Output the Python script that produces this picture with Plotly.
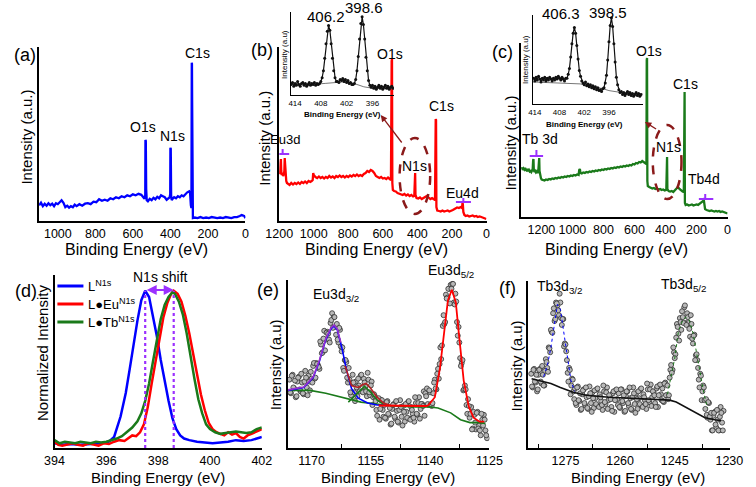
import plotly.graph_objects as go

W, H = 756, 487
FONT = "Liberation Sans, Arial, sans-serif"
PURPLE = "#9B30FF"
DARKRED = "#8B1A1A"
GREEN = "#1A7A1A"
BLUE = "#0000FF"
RED = "#FF0000"


def fx(px):
    return px / W


def fy(py):
    return 1 - py / H


# ---------------- data ----------------
# (a) survey of the ligand: (binding energy eV, intensity a.u.)
survey_a = [(1100, 14), (1090, 16.5), (1080, 13), (1070, 15.5), (1060, 13.5), (1050, 16), (1040, 14), (1030, 15.5),
            (1020, 13), (1010, 16), (1000, 15), (990, 17), (980, 19), (970, 16.5), (960, 12), (950, 13.5), (940, 11.5),
            (930, 13), (920, 12), (910, 14.5), (900, 13), (885, 15), (870, 13.5), (855, 15.5), (840, 16), (825, 15),
            (810, 17.5), (795, 17), (780, 20), (765, 18.5), (750, 19.5), (735, 18.5), (720, 21), (705, 20), (690, 22),
            (675, 21), (660, 23), (645, 22), (630, 24), (615, 23), (600, 25), (585, 24), (570, 25.5), (555, 24.5),
            (545, 22), (538, 20.5), (534, 24), (533, 80), (531, 79), (529, 30), (526, 19), (520, 18), (510, 20.5),
            (500, 19), (490, 21.5), (480, 20), (470, 22.5), (460, 21), (450, 24), (440, 23), (430, 22), (420, 19.5),
            (410, 21), (404, 22), (401, 25), (400, 72), (398, 71), (396, 24), (393, 19), (388, 20.5), (380, 22),
            (370, 21), (360, 23), (350, 22), (340, 24), (330, 23), (320, 25.5), (310, 27), (300, 28), (295, 26),
            (291, 14), (288, 11), (286, 158), (285, 157), (284, 118), (283, 60), (282, 3), (280, 1), (270, 1.5),
            (255, 1), (240, 2), (225, 1), (210, 1.5), (195, 1), (180, 2), (165, 1.5), (150, 1), (135, 1.5), (120, 1),
            (105, 2), (90, 1.5), (75, 1), (60, 2), (45, 2), (30, 3), (20, 4), (12, 3.5), (6, 3), (2, 1.5), (0, 1)]

# (b) survey of L-Eu
survey_b = [(1200, 47), (1197, 49), (1194, 50), (1192, 58), (1190, 62), (1188, 50), (1185, 46), (1181, 48), (1177, 45),
            (1173, 47), (1170, 50), (1168, 63), (1166, 58), (1163, 44), (1159, 40), (1155, 38), (1150, 37.5),
            (1140, 36), (1130, 38), (1120, 36.5), (1110, 38), (1100, 37), (1090, 38.5), (1080, 37), (1070, 39),
            (1060, 38), (1050, 39.5), (1040, 38), (1030, 40), (1020, 39), (1012, 40), (1006, 41), (1003, 48),
            (1000, 46), (990, 44), (980, 43), (970, 44.5), (960, 43), (950, 44), (940, 42.5), (930, 44), (920, 43),
            (910, 45), (900, 43.5), (890, 44.5), (880, 43), (870, 45), (860, 44), (850, 45.5), (840, 44), (830, 45),
            (820, 43.5), (810, 45), (800, 44), (790, 45.5), (780, 44.5), (770, 46), (760, 45), (750, 46.5), (740, 45),
            (730, 46), (720, 45), (710, 47), (700, 48), (690, 50), (680, 49), (670, 51), (660, 50), (650, 48),
            (640, 45), (630, 44), (620, 43), (610, 44), (600, 42.5), (590, 43), (580, 42), (570, 43.5), (560, 42),
            (553, 41), (549, 160), (547, 162), (545, 38), (542, 31), (535, 30), (525, 29.5), (515, 28), (505, 27.5),
            (495, 27), (485, 26), (475, 27), (465, 25.5), (455, 26.5), (445, 25), (435, 26), (425, 24.5), (418, 25),
            (415, 47), (413, 48), (411, 26), (405, 23), (395, 22.5), (385, 23.5), (375, 22), (365, 23), (355, 24),
            (345, 25), (335, 23.5), (325, 22), (315, 23), (305, 22), (298, 21), (294, 102), (292, 101), (290, 14),
            (285, 10.5), (275, 10), (265, 9.5), (255, 10.5), (245, 9.5), (235, 10), (225, 10.5), (215, 9.5),
            (205, 10), (195, 11), (185, 12), (178, 13), (170, 13.5), (160, 13), (150, 14), (142, 13), (139, 18),
            (137, 17), (134, 9), (128, 6), (120, 5), (110, 5.5), (100, 4.5), (90, 5), (80, 5.5), (70, 4.5), (60, 5),
            (50, 4), (40, 4.5), (30, 4), (20, 3.5), (10, 3), (5, 2.5), (1, 2)]

# (c) survey of L-Tb
survey_c = [(1330, 48), (1325, 49.5), (1320, 47), (1315, 48.5), (1310, 47.5), (1305, 49), (1300, 47), (1295, 46.5),
            (1290, 48), (1285, 46), (1280, 47), (1275, 45.5), (1270, 46), (1265, 45), (1260, 46.5), (1256, 48),
            (1253, 57), (1251, 58), (1249, 48), (1245, 45), (1240, 46), (1235, 44.5), (1230, 45.5), (1225, 44),
            (1220, 46), (1216, 56), (1214, 59), (1212, 46), (1208, 42), (1203, 39), (1198, 37.5), (1190, 37),
            (1180, 36.5), (1170, 37.5), (1160, 37), (1150, 38), (1140, 37.5), (1130, 38.5), (1120, 38), (1110, 39),
            (1100, 38.5), (1090, 39.5), (1080, 39), (1070, 40), (1060, 39.5), (1050, 40.5), (1040, 40), (1030, 41),
            (1020, 40.5), (1010, 41.5), (1000, 41), (990, 42), (980, 41.5), (970, 42.5), (960, 42), (956, 47),
            (952, 48), (948, 44), (940, 43.5), (930, 44.5), (920, 44), (910, 45), (900, 44.5), (890, 45.5), (880, 45),
            (870, 46), (860, 45.5), (850, 46.5), (840, 46), (830, 47), (820, 46.5), (810, 47.5), (800, 47), (790, 48),
            (780, 47.5), (770, 48.5), (760, 48), (750, 49), (740, 48.5), (730, 49.5), (720, 49), (710, 50),
            (700, 49.5), (690, 50.5), (680, 50), (670, 51), (660, 50.5), (650, 51.5), (640, 51), (630, 52),
            (620, 51.5), (610, 53), (600, 52.5), (590, 54), (580, 53.5), (570, 55), (560, 54.5), (550, 56), (540, 55),
            (530, 54), (523, 53), (521, 157), (519, 159), (517, 36), (514, 31), (505, 30), (495, 29.5), (485, 28.5),
            (475, 29), (465, 28), (455, 28.5), (445, 27.5), (435, 28), (425, 27), (415, 27.5), (405, 26.5), (395, 27),
            (392, 59), (390, 60), (388, 28), (380, 26), (370, 25.5), (360, 26), (350, 25), (340, 27), (330, 29),
            (320, 30), (310, 28), (300, 26.5), (290, 25.5), (282, 25), (279, 124), (277, 125), (275, 14), (270, 12),
            (260, 12.5), (250, 11.5), (240, 12), (230, 12.5), (220, 11.5), (210, 12), (200, 12.5), (190, 12),
            (180, 13), (170, 14), (162, 15), (157, 16), (155, 19), (153, 17), (150, 10), (145, 8), (135, 7),
            (125, 6.5), (115, 6), (105, 6.5), (95, 6), (85, 5.5), (75, 6), (65, 5.5), (55, 6), (45, 5), (35, 5.5),
            (25, 5), (15, 4.5), (5, 4), (0, 3.5)]

# inset of (b): N1s high resolution
inset_b_energy = [414.9, 414.6, 414.3, 414.0, 413.7, 413.4, 413.1, 412.8, 412.5, 412.2, 411.9, 411.6, 411.3, 411.0,
                  410.7, 410.4, 410.1, 409.8, 409.5, 409.2, 408.9, 408.6, 408.3, 408.0, 407.7, 407.4, 407.1, 406.8,
                  406.5, 406.2, 405.9, 405.6, 405.3, 405.0, 404.7, 404.4, 404.1, 403.8, 403.5, 403.2, 402.9, 402.6,
                  402.3, 402.0, 401.7, 401.4, 401.1, 400.8, 400.5, 400.2, 399.9, 399.6, 399.3, 399.0, 398.7, 398.4,
                  398.1, 397.8, 397.5, 397.2, 396.9, 396.6, 396.3, 396.0, 395.7, 395.4, 395.1, 394.8, 394.5, 394.2,
                  393.9, 393.6, 393.3, 393.0, 392.7, 392.4, 392.1, 391.8, 391.5, 391.2]
inset_b_counts = [11, 13, 9, 12, 10, 14, 11, 9, 12, 13, 10, 12, 9, 11, 13, 10, 12, 11, 13, 10, 12, 11,
                  12, 14, 18, 25, 38, 53, 66, 72, 67, 53, 38, 25, 18, 14,
                  14, 13, 16, 15, 17, 14, 16, 13, 15, 12, 13, 11,
                  11, 12, 16, 25, 40, 58, 74, 81, 73, 58, 39, 25, 15, 10, 8,
                  10, 7, 9, 6, 8, 10, 7, 9, 6, 8, 10, 7, 9, 6, 8, 9, 7]
inset_b_bg_energy = [415, 410, 407, 405, 403, 401, 399.5, 398, 396, 393, 391]
inset_b_bg = [11, 11, 12, 12.5, 13.5, 13, 10.5, 8.5, 7, 6.5, 6.5]
inset_b_peaks = ["406.2", "398.6"]

# inset of (c): N1s high resolution
inset_c_energy = [414.3, 414.0, 413.7, 413.4, 413.1, 412.8, 412.5, 412.2, 411.9, 411.6, 411.3, 411.0, 410.7, 410.4,
                  410.1, 409.8, 409.5, 409.2, 408.9, 408.6, 408.3, 408.0, 407.7, 407.4, 407.1, 406.8, 406.5, 406.2,
                  405.9, 405.6, 405.3, 405.0, 404.7, 404.4, 404.1, 403.8, 403.5, 403.2, 402.9, 402.6, 402.3, 402.0,
                  401.7, 401.4, 401.1, 400.8, 400.5, 400.2, 399.9, 399.6, 399.3, 399.0, 398.7, 398.4, 398.1, 397.8,
                  397.5, 397.2, 396.9, 396.6, 396.3, 396.0, 395.7, 395.4, 395.1, 394.8, 394.5, 394.2, 393.9, 393.6,
                  393.3, 393.0, 392.7, 392.4, 392.1, 391.8, 391.5, 391.2, 390.9, 390.6, 390.3, 390.0, 389.7, 389.4,
                  389.1, 388.8, 388.5, 388.2]
inset_c_counts = [27, 24, 28, 25, 29, 26, 23, 27, 25, 28, 24, 27, 25, 28, 26, 24, 27, 25, 28, 26,
                  29, 27, 25, 28, 26, 24, 27, 27, 31, 37, 49, 63, 74, 80, 74, 61, 47, 35, 29, 24,
                  22, 20, 23, 19, 21, 18, 20, 17, 19, 16, 18, 15, 17, 14, 15, 13, 16, 17, 22, 30,
                  46, 65, 82, 90, 81, 63, 44, 28, 20, 15, 12, 13, 10, 12, 9, 11, 13, 10, 12, 9,
                  11, 8, 10, 12, 9, 11, 8, 10]
inset_c_bg_energy = [414.5, 410, 406, 403, 401, 399, 397.5, 396, 393, 390, 387.8]
inset_c_bg = [23, 22.5, 22, 21, 19, 17.5, 16, 14, 12, 11, 10.5]
inset_c_peaks = ["406.3", "398.5"]

# (d) normalized N1s spectra
ligand_n1s = [(394.0, 0.03), (394.3, 0.02), (394.6, 0.025), (395.0, 0.02), (395.4, 0.025), (395.8, 0.03),
              (396.1, 0.04), (396.3, 0.07), (396.55, 0.2), (396.75, 0.35), (396.9, 0.5), (397.05, 0.66),
              (397.2, 0.81), (397.35, 0.94), (397.5, 1.0), (397.65, 0.96), (397.8, 0.84), (397.95, 0.71),
              (398.1, 0.56), (398.25, 0.42), (398.4, 0.3), (398.55, 0.19), (398.7, 0.12), (398.85, 0.08),
              (399.0, 0.06), (399.2, 0.05), (399.5, 0.04), (399.8, 0.035), (400.1, 0.03), (400.4, 0.035),
              (400.7, 0.04), (401.0, 0.05), (401.3, 0.045), (401.6, 0.05), (401.8, 0.06), (402.0, 0.07)]
eu_n1s = [(394.0, 0.04), (394.15, 0.02), (394.3, 0.015), (394.5, 0.025), (394.7, 0.03), (394.9, 0.02),
          (395.1, 0.015), (395.3, 0.03), (395.5, 0.02), (395.7, 0.015), (395.9, 0.03), (396.1, 0.025),
          (396.3, 0.04), (396.5, 0.05), (396.7, 0.045), (396.9, 0.07), (397.0, 0.08), (397.15, 0.075),
          (397.3, 0.1), (397.45, 0.15), (397.6, 0.26), (397.75, 0.41), (397.9, 0.55), (398.05, 0.7), (398.2, 0.83),
          (398.35, 0.92), (398.5, 0.98), (398.6, 1.0), (398.75, 0.98), (398.9, 0.93), (399.05, 0.84),
          (399.2, 0.73), (399.35, 0.6), (399.5, 0.47), (399.65, 0.34), (399.8, 0.24), (399.95, 0.16),
          (400.1, 0.12), (400.25, 0.1), (400.4, 0.09), (400.55, 0.08), (400.7, 0.1), (400.85, 0.085),
          (401.0, 0.095), (401.15, 0.07), (401.3, 0.06), (401.45, 0.08), (401.6, 0.09), (401.75, 0.1),
          (401.9, 0.11), (402.0, 0.12)]
tb_n1s = [(394.0, 0.05), (394.2, 0.03), (394.4, 0.04), (394.6, 0.035), (394.8, 0.03), (395.0, 0.04),
          (395.2, 0.035), (395.4, 0.03), (395.6, 0.04), (395.8, 0.035), (396.0, 0.04), (396.2, 0.05),
          (396.4, 0.06), (396.6, 0.075), (396.8, 0.1), (397.0, 0.13), (397.2, 0.17), (397.35, 0.22),
          (397.5, 0.3), (397.65, 0.41), (397.8, 0.55), (397.95, 0.69), (398.1, 0.82), (398.25, 0.91),
          (398.4, 0.96), (398.55, 0.99), (398.65, 0.98), (398.8, 0.93), (398.95, 0.85), (399.1, 0.73),
          (399.25, 0.58), (399.4, 0.44), (399.55, 0.31), (399.7, 0.22), (399.85, 0.15), (400.0, 0.12),
          (400.2, 0.1), (400.4, 0.09), (400.6, 0.095), (400.8, 0.1), (401.0, 0.105), (401.2, 0.1),
          (401.4, 0.095), (401.6, 0.1), (401.8, 0.12), (402.0, 0.13)]
n1s_peak_positions = [397.5, 398.6]
legend_names = ["L<sup>N1s</sup>", "L\u25CFEu<sup>N1s</sup>", "L\u25CFTb<sup>N1s</sup>"]

# (e) Eu3d high resolution: measured points (two interleaved scans)
eu3d_energy = [1175.6, 1175.2, 1174.8, 1174.4, 1174.0, 1173.6, 1173.2, 1172.8, 1172.4, 1172.0,
               1171.6, 1171.2, 1170.8, 1170.4, 1170.0, 1169.6, 1169.2, 1168.8, 1168.4, 1168.0,
               1167.6, 1167.2, 1166.8, 1166.4, 1166.0, 1165.6, 1165.2, 1164.8, 1164.4, 1164.0,
               1163.6, 1163.2, 1162.8, 1162.4, 1162.0, 1161.6, 1161.2, 1160.8, 1160.4, 1160.0,
               1159.6, 1159.2, 1158.8, 1158.4, 1158.0, 1157.6, 1157.2, 1156.8, 1156.4, 1156.0,
               1155.6, 1155.2, 1154.8, 1154.4, 1154.0, 1153.6, 1153.2, 1152.8, 1152.4, 1152.0,
               1151.6, 1151.2, 1150.8, 1150.4, 1150.0, 1149.6, 1149.2, 1148.8, 1148.4, 1148.0,
               1147.6, 1147.2, 1146.8, 1146.4, 1146.0, 1145.6, 1145.2, 1144.8, 1144.4, 1144.0,
               1143.6, 1143.2, 1142.8, 1142.4, 1142.0, 1141.6, 1141.2, 1140.8, 1140.4, 1140.0,
               1139.6, 1139.2, 1138.8, 1138.4, 1138.0, 1137.6, 1137.2, 1136.8, 1136.4, 1136.0,
               1135.6, 1135.2, 1134.8, 1134.4, 1134.0, 1133.6, 1133.2, 1132.8, 1132.4, 1132.0,
               1131.6, 1131.2, 1130.8, 1130.4, 1130.0, 1129.6, 1129.2, 1128.8, 1128.4, 1128.0,
               1127.6, 1127.2, 1126.8, 1126.4, 1126.0, 1125.6]
eu3d_counts = [70, 56, 75, 61, 52, 68, 73, 58, 67, 55, 79, 62, 74, 59, 71, 84, 71, 87, 85, 81,
               106, 98, 120, 111, 119, 111, 128, 138, 134, 124, 127, 108, 121, 99, 82, 90, 88, 67, 70, 54,
               75, 57, 68, 53, 64, 74, 58, 71, 63, 53, 70, 54, 68, 52, 53, 39, 50, 29, 49, 39,
               44, 30, 48, 34, 24, 40, 45, 30, 38, 26, 49, 32, 43, 27, 37, 47, 30, 42, 35, 27,
               46, 34, 52, 40, 45, 58, 56, 61, 44, 57, 43, 56, 70, 60, 81, 86, 91, 125, 127, 157,
               154, 163, 167, 168, 149, 158, 129, 124, 92, 87, 59, 64, 44, 50, 31, 42, 20, 34, 19, 37,
               23, 13, 29, 34, 18, 10]
eu3d_energy_2 = [1175.4, 1175.0, 1174.6, 1174.2, 1173.8, 1173.4, 1173.0, 1172.6, 1172.2, 1171.8,
                 1171.4, 1171.0, 1170.6, 1170.2, 1169.8, 1169.4, 1169.0, 1168.6, 1168.2, 1167.8,
                 1167.4, 1167.0, 1166.6, 1166.2, 1165.8, 1165.4, 1165.0, 1164.6, 1164.2, 1163.8,
                 1163.4, 1163.0, 1162.6, 1162.2, 1161.8, 1161.4, 1161.0, 1160.6, 1160.2, 1159.8,
                 1159.4, 1159.0, 1158.6, 1158.2, 1157.8, 1157.4, 1157.0, 1156.6, 1156.2, 1155.8,
                 1155.4, 1155.0, 1154.6, 1154.2, 1153.8, 1153.4, 1153.0, 1152.6, 1152.2, 1151.8,
                 1151.4, 1151.0, 1150.6, 1150.2, 1149.8, 1149.4, 1149.0, 1148.6, 1148.2, 1147.8,
                 1147.4, 1147.0, 1146.6, 1146.2, 1145.8, 1145.4, 1145.0, 1144.6, 1144.2, 1143.8,
                 1143.4, 1143.0, 1142.6, 1142.2, 1141.8, 1141.4, 1141.0, 1140.6, 1140.2, 1139.8,
                 1139.4, 1139.0, 1138.6, 1138.2, 1137.8, 1137.4, 1137.0, 1136.6, 1136.2, 1135.8,
                 1135.4, 1135.0, 1134.6, 1134.2, 1133.8, 1133.4, 1133.0, 1132.6, 1132.2, 1131.8,
                 1131.4, 1131.0, 1130.6, 1130.2, 1129.8, 1129.4, 1129.0, 1128.6, 1128.2, 1127.8,
                 1127.4, 1127.0, 1126.6, 1126.2, 1125.8]
eu3d_counts_2 = [57, 74, 62, 69, 53, 72, 60, 76, 56, 68, 72, 54, 68, 78, 67, 87, 72, 86, 83, 109,
                 97, 112, 100, 118, 117, 108, 131, 123, 134, 116, 111, 123, 104, 103, 79, 90, 72, 82, 57, 66,
                 67, 48, 62, 71, 58, 75, 57, 67, 58, 77, 57, 64, 44, 55, 48, 33, 51, 40, 49, 32,
                 31, 47, 35, 41, 25, 44, 32, 48, 27, 39, 42, 23, 37, 45, 31, 48, 29, 39, 31, 52,
                 35, 46, 30, 45, 43, 33, 53, 45, 59, 45, 46, 67, 61, 76, 71, 103, 105, 136, 129, 153,
                 163, 148, 163, 168, 147, 150, 115, 108, 84, 90, 60, 60, 35, 43, 35, 19, 37, 26, 36, 20,
                 18, 35, 23, 29, 13]
# (e) fitted components
eu_background = [(1176, 59), (1170.4, 59), (1166.4, 56), (1162.4, 52), (1159.9, 49), (1157.5, 47), (1153.5, 45),
                 (1149.5, 43), (1143.7, 42), (1140.1, 42), (1138, 41), (1134.8, 36), (1132.3, 29), (1129.9, 26),
                 (1127.5, 26), (1126, 25)]
eu_3d32_fit = [(1176, 59), (1172, 62), (1169.6, 72), (1168, 89), (1166.4, 111), (1165.1, 122), (1164.3, 125),
               (1163.5, 121), (1162.3, 102), (1161.1, 79), (1159.9, 61), (1158.2, 51), (1155.8, 46), (1153.4, 44),
               (1151, 43.5)]
eu_envelope_32 = [(1176, 59.5), (1172, 62.5), (1169.6, 73), (1168, 90), (1166.4, 112), (1165.1, 123),
                  (1164.3, 126), (1163.5, 122), (1162.6, 108)]
eu_satellite = [(1160.7, 47), (1158.2, 57), (1156.6, 63), (1155, 57), (1153.4, 49), (1151.8, 45)]
eu_envelope_sat = [(1161.5, 84), (1159.9, 64), (1158.2, 62), (1157, 65), (1156.2, 66), (1155, 61), (1153.4, 52),
                   (1151.8, 46), (1150, 43.5), (1145, 43), (1141, 43)]
eu_3d52_fit = [(1153, 43.5), (1147, 43), (1141, 43), (1140.4, 44), (1138.8, 52), (1137.5, 82), (1136.3, 126),
               (1135.5, 151), (1134.5, 162), (1133.5, 149), (1132.7, 116), (1131.5, 69), (1130.2, 42), (1129, 31),
               (1127.5, 27), (1126.3, 27)]

# (f) Tb3d high resolution: measured points (two interleaved scans)
tb3d_energy = [1284.4, 1284.0, 1283.6, 1283.2, 1282.8, 1282.4, 1282.0, 1281.6, 1281.2, 1280.8,
               1280.4, 1280.0, 1279.6, 1279.2, 1278.8, 1278.4, 1278.0, 1277.6, 1277.2, 1276.8,
               1276.4, 1276.0, 1275.6, 1275.2, 1274.8, 1274.4, 1274.0, 1273.6, 1273.2, 1272.8,
               1272.4, 1272.0, 1271.6, 1271.2, 1270.8, 1270.4, 1270.0, 1269.6, 1269.2, 1268.8,
               1268.4, 1268.0, 1267.6, 1267.2, 1266.8, 1266.4, 1266.0, 1265.6, 1265.2, 1264.8,
               1264.4, 1264.0, 1263.6, 1263.2, 1262.8, 1262.4, 1262.0, 1261.6, 1261.2, 1260.8,
               1260.4, 1260.0, 1259.6, 1259.2, 1258.8, 1258.4, 1258.0, 1257.6, 1257.2, 1256.8,
               1256.4, 1256.0, 1255.6, 1255.2, 1254.8, 1254.4, 1254.0, 1253.6, 1253.2, 1252.8,
               1252.4, 1252.0, 1251.6, 1251.2, 1250.8, 1250.4, 1250.0, 1249.6, 1249.2, 1248.8,
               1248.4, 1248.0, 1247.6, 1247.2, 1246.8, 1246.4, 1246.0, 1245.6, 1245.2, 1244.8,
               1244.4, 1244.0, 1243.6, 1243.2, 1242.8, 1242.4, 1242.0, 1241.6, 1241.2, 1240.8,
               1240.4, 1240.0, 1239.6, 1239.2, 1238.8, 1238.4, 1238.0, 1237.6, 1237.2, 1236.8,
               1236.4, 1236.0, 1235.6, 1235.2, 1234.8, 1234.4, 1234.0, 1233.6, 1233.2, 1232.8,
               1232.4, 1232.0, 1231.6]
tb3d_counts = [76, 62, 81, 67, 58, 75, 81, 66, 75, 64, 91, 82, 103, 98, 119, 138, 130, 149, 146, 136,
               149, 126, 132, 107, 99, 77, 82, 55, 71, 58, 61, 44, 63, 48, 39, 55, 60, 44, 52, 40,
               63, 46, 57, 41, 51, 60, 43, 55, 48, 39, 58, 45, 62, 49, 53, 42, 56, 37, 59, 50,
               56, 41, 60, 46, 37, 53, 58, 43, 51, 39, 62, 45, 56, 40, 51, 60, 43, 55, 49, 40,
               60, 47, 65, 52, 57, 46, 61, 42, 64, 55, 61, 47, 67, 54, 50, 72, 85, 80, 98, 96,
               127, 117, 133, 121, 134, 144, 128, 138, 128, 114, 127, 107, 116, 95, 90, 70, 76, 49, 64, 49,
               50, 31, 46, 29, 18, 33, 37, 21, 29, 18, 42, 26, 38]
tb3d_energy_2 = [1284.2, 1283.8, 1283.4, 1283.0, 1282.6, 1282.2, 1281.8, 1281.4, 1281.0, 1280.6,
                 1280.2, 1279.8, 1279.4, 1279.0, 1278.6, 1278.2, 1277.8, 1277.4, 1277.0, 1276.6,
                 1276.2, 1275.8, 1275.4, 1275.0, 1274.6, 1274.2, 1273.8, 1273.4, 1273.0, 1272.6,
                 1272.2, 1271.8, 1271.4, 1271.0, 1270.6, 1270.2, 1269.8, 1269.4, 1269.0, 1268.6,
                 1268.2, 1267.8, 1267.4, 1267.0, 1266.6, 1266.2, 1265.8, 1265.4, 1265.0, 1264.6,
                 1264.2, 1263.8, 1263.4, 1263.0, 1262.6, 1262.2, 1261.8, 1261.4, 1261.0, 1260.6,
                 1260.2, 1259.8, 1259.4, 1259.0, 1258.6, 1258.2, 1257.8, 1257.4, 1257.0, 1256.6,
                 1256.2, 1255.8, 1255.4, 1255.0, 1254.6, 1254.2, 1253.8, 1253.4, 1253.0, 1252.6,
                 1252.2, 1251.8, 1251.4, 1251.0, 1250.6, 1250.2, 1249.8, 1249.4, 1249.0, 1248.6,
                 1248.2, 1247.8, 1247.4, 1247.0, 1246.6, 1246.2, 1245.8, 1245.4, 1245.0, 1244.6,
                 1244.2, 1243.8, 1243.4, 1243.0, 1242.6, 1242.2, 1241.8, 1241.4, 1241.0, 1240.6,
                 1240.2, 1239.8, 1239.4, 1239.0, 1238.6, 1238.2, 1237.8, 1237.4, 1237.0, 1236.6,
                 1236.2, 1235.8, 1235.4, 1235.0, 1234.6, 1234.2, 1233.8, 1233.4, 1233.0, 1232.6,
                 1232.2, 1231.8]
tb3d_counts_2 = [63, 80, 68, 75, 60, 80, 68, 84, 64, 79, 88, 78, 102, 121, 118, 143, 132, 148, 141, 158,
                 133, 132, 104, 106, 90, 68, 80, 64, 70, 50, 46, 62, 49, 56, 40, 59, 46, 62, 41, 53,
                 56, 37, 51, 59, 45, 61, 42, 52, 44, 64, 47, 57, 40, 54, 50, 38, 58, 49, 60, 44,
                 42, 60, 48, 54, 38, 58, 46, 62, 40, 52, 56, 36, 50, 58, 45, 61, 42, 52, 45, 66,
                 49, 60, 43, 58, 54, 42, 63, 54, 65, 49, 48, 66, 54, 64, 54, 80, 77, 103, 92, 113,
                 124, 110, 129, 140, 128, 146, 126, 134, 122, 136, 112, 115, 90, 96, 82, 62, 74, 58, 62, 40,
                 34, 47, 32, 36, 18, 36, 24, 39, 18, 32, 36, 18]
tb_background = [(1284.3, 71), (1279, 66), (1276.4, 62), (1272.9, 57), (1269.3, 54), (1263.1, 52), (1257, 51),
                 (1249.9, 50), (1246.4, 49), (1244.6, 47), (1242, 42), (1239.3, 36), (1236.7, 31), (1234, 29),
                 (1232.3, 28)]
tb_3d32_fit = [(1281, 73), (1280, 84), (1279, 103), (1278, 130), (1277.2, 147), (1276.4, 142), (1275.5, 118),
               (1274.5, 92), (1273.5, 69), (1272.5, 58)]
tb_3d52_fit = [(1247, 55), (1246, 74), (1245, 92), (1244, 119), (1243, 129), (1242, 134), (1241, 131),
               (1240, 118), (1239, 98), (1238, 78), (1237, 56), (1236, 41)]

survey_ticks = [1200, 1000, 800, 600, 400, 200, 0]
inset_ticks = [414, 408, 402, 396]


def xs(points):
    return [p[0] for p in points]


def ys(points):
    return [p[1] for p in points]


fig = go.Figure()


def line(points, xa, ya, color, width=2, dash=None, name=None):
    fig.add_trace(go.Scatter(x=xs(points), y=ys(points), mode="lines", xaxis=xa, yaxis=ya,
                             line=dict(color=color, width=width, dash=dash), name=name,
                             showlegend=False, hoverinfo="skip"))


line(survey_a, "x", "y", BLUE, 2.3)
line(survey_b, "x2", "y2", RED, 2.3)
line(survey_c, "x3", "y3", GREEN, 2.3)

# insets
for e, c, be, bc, ax in [(inset_b_energy, inset_b_counts, inset_b_bg_energy, inset_b_bg, "7"),
                         (inset_c_energy, inset_c_counts, inset_c_bg_energy, inset_c_bg, "8")]:
    fig.add_trace(go.Scatter(x=be, y=bc, mode="lines", xaxis="x" + ax, yaxis="y" + ax,
                             line=dict(color="#777777", width=1), showlegend=False))
    fig.add_trace(go.Scatter(x=e, y=c, mode="lines+markers", xaxis="x" + ax, yaxis="y" + ax,
                             line=dict(color="#111111", width=1.2), marker=dict(size=3, color="#111111"),
                             showlegend=False))

# (d)
d_series = [(ligand_n1s, BLUE), (eu_n1s, RED), (tb_n1s, GREEN)]
for (pts, col), nm in zip(d_series, legend_names):
    line(pts, "x4", "y4", col, 2.5, name=nm)

# (e)
marker_style = dict(size=5, color="#B8B8B8", line=dict(color="#303030", width=0.8))
for e, c in [(eu3d_energy, eu3d_counts), (eu3d_energy_2, eu3d_counts_2)]:
    fig.add_trace(go.Scatter(x=e, y=c, mode="markers", xaxis="x5", yaxis="y5",
                             marker=marker_style, showlegend=False))
line(eu_background, "x5", "y5", GREEN, 1.6)
line(eu_3d32_fit, "x5", "y5", BLUE, 1.6)
line(eu_envelope_32, "x5", "y5", "#9932CC", 1.6)
line(eu_satellite, "x5", "y5", GREEN, 1.6)
line(eu_envelope_sat, "x5", "y5", "#B22222", 1.6)
line(eu_3d52_fit, "x5", "y5", RED, 1.8)

# (f)
for e, c in [(tb3d_energy, tb3d_counts), (tb3d_energy_2, tb3d_counts_2)]:
    fig.add_trace(go.Scatter(x=e, y=c, mode="markers", xaxis="x6", yaxis="y6",
                             marker=marker_style, showlegend=False))
line(tb_background, "x6", "y6", "#111111", 1.6)
line(tb_3d32_fit, "x6", "y6", BLUE, 1, dash="dot")
line(tb_3d52_fit, "x6", "y6", GREEN, 1, dash="dot")

# ---------- axes ----------
panels = {
    "": dict(xd=(26, 240), yd=(221, 47), xr=[1100, 0], yr=[-2, 174], ticks=survey_ticks),
    "2": dict(xd=(275, 490), yd=(221, 47), xr=[1200, 0], yr=[0, 174], ticks=survey_ticks),
    "3": dict(xd=(526, 740), yd=(217, 43), xr=[1330, 0], yr=[0, 174], ticks=survey_ticks),
    "4": dict(xd=(42, 257), yd=(448, 275), xr=[394, 402], yr=[0, 1.1], ticks=[394, 396, 398, 400, 402]),
    "5": dict(xd=(284, 493), yd=(448, 280), xr=[1176, 1125], yr=[0, 172], ticks=[1170, 1155, 1140, 1125],
              minor=1125),
    "6": dict(xd=(533, 743), yd=(448, 281), xr=[1285.3, 1229.7], yr=[0, 171], ticks=[1275, 1260, 1245, 1230],
              minor=1230),
    "7": dict(xd=(287, 394), yd=(95, 12), xr=[415, 391], yr=[0, 86], ticks=inset_ticks, inset=True),
    "8": dict(xd=(538, 652), yd=(104, 15), xr=[414.5, 387.8], yr=[0, 93], ticks=inset_ticks, inset=True),
}
layout_axes = {}
for k, p in panels.items():
    inset = p.get("inset", False)
    lw = 1 if inset else 2
    xa = dict(domain=[fx(p["xd"][0]), fx(p["xd"][1])], anchor="y" + k, range=p["xr"],
              showline=True, linecolor="black", linewidth=lw, showgrid=False, zeroline=False,
              tickmode="array", tickvals=p["ticks"], ticks="",
              tickfont=dict(family=FONT, size=8 if inset else 12.5, color="black"))
    if "minor" in p:
        xa["minor"] = dict(ticks="inside", ticklen=4, tickwidth=1.2, tickcolor="black",
                           tick0=p["minor"] + 7.5, dtick=15, showgrid=False)
    ya = dict(domain=[fy(p["yd"][0]), fy(p["yd"][1])], anchor="x" + k, range=p["yr"],
              showline=True, linecolor="black", linewidth=lw, showgrid=False, zeroline=False,
              showticklabels=False, ticks="")
    layout_axes["xaxis" + k] = xa
    layout_axes["yaxis" + k] = ya

# ---------- annotations ----------
ann = []


def text(t, x, y, size=14, xref="paper", yref="paper", angle=0, color="black", bold=False, anchor="center"):
    if xref == "paper":
        x = fx(x)
    if yref == "paper":
        y = fy(y)
    if bold:
        t = "<b>" + t + "</b>"
    ann.append(dict(text=t, x=x, y=y, xref=xref, yref=yref, showarrow=False, textangle=angle,
                    xanchor=anchor, yanchor="middle", font=dict(family=FONT, size=size, color=color)))


for lbl, px, py in [("(a)", 11, 55), ("(b)", 257, 50), ("(c)", 507, 52), ("(d)", 12, 291), ("(e)", 263, 290),
                    ("(f)", 512, 288)]:
    text(lbl, px, py, size=18)
for px, py, sz in [(127, 249, 16), (376, 249, 16), (625, 249, 16), (149, 477, 15), (388, 477, 15),
                   (647, 477, 15)]:
    text("Binding Energy (eV)", px, py, size=sz)
text("Intensity (a.u.)", 12, 137, size=15, angle=-90)
text("Intensity (a.u.)", 259, 138, size=15, angle=-90)
text("Intensity (a.u.)", 515, 143, size=15, angle=-90)
text("Normalized Intensity", 29, 353, size=15, angle=-90)
text("Intensity (a.u)", 271, 365, size=15, angle=-90)
text("Intensity (a.u)", 521, 366, size=15, angle=-90)

# peak labels on surveys
text("C1s", 257, 168, xref="x", yref="y")
text("O1s", 545, 93, xref="x", yref="y")
text("N1s", 391, 84, xref="x", yref="y")
text("O1s", 559, 167, xref="x2", yref="y2")
text("C1s", 263, 115, xref="x2", yref="y2")
text("N1s", 417, 55, xref="x2", yref="y2")
text("Eu3d", 1165, 82, xref="x2", yref="y2", size=13)
text("Eu4d", 138, 28, xref="x2", yref="y2")
text("O1s", 509, 166, xref="x3", yref="y3")
text("C1s", 273, 133, xref="x3", yref="y3")
text("N1s", 379, 70, xref="x3", yref="y3")
text("Tb 3d", 1210, 78, xref="x3", yref="y3")
text("Tb4d", 154, 38, xref="x3", yref="y3")

# inset texts
text(inset_b_peaks[0], 324, 16, size=15)
text(inset_b_peaks[1], 363, 7, size=15)
text(inset_c_peaks[0], 567, 14, size=15)
text(inset_c_peaks[1], 616, 12, size=15)
text("Binding Energy (eV)", 341, 114, size=8, bold=True)
text("Binding Energy (eV)", 592, 124, size=8, bold=True)
text("Intensity (a.u)", 281, 54, size=8, angle=-90)
text("Intensity (a.u)", 530, 60, size=8, angle=-90)

text("N1s shift", 152, 277, size=14)
text("Eu3d<sub>3/2</sub>", 334, 295, size=14)
text("Eu3d<sub>5/2</sub>", 453, 271, size=14)
text("Tb3d<sub>3/2</sub>", 566, 287, size=14)
text("Tb3d<sub>5/2</sub>", 695, 285, size=14)

# (d) legend drawn as key lines + labels
shapes = []
for (pts, col), nm, py in zip(d_series, legend_names, [286, 304, 322]):
    shapes.append(dict(type="line", xref="paper", yref="paper", x0=fx(45), x1=fx(72), y0=fy(py), y1=fy(py),
                       line=dict(color=col, width=3)))
    text(nm, 75, py, size=13, anchor="left")

# arrows
ann.append(dict(x=398.6, y=1.005, ax=397.5, ay=1.005, xref="x4", yref="y4", axref="x4", ayref="y4",
                showarrow=True, arrowside="end+start", arrowhead=2, arrowsize=1, arrowwidth=2,
                arrowcolor=PURPLE, text=""))
ann.append(dict(x=612, y=106, ax=484, ay=77, xref="x2", yref="y2", axref="x2", ayref="y2",
                showarrow=True, arrowhead=2, arrowsize=1, arrowwidth=1.3, arrowcolor=DARKRED, text=""))
ann.append(dict(x=533, y=95, ax=451, ay=87, xref="x3", yref="y3", axref="x3", ayref="y3",
                showarrow=True, arrowhead=2, arrowsize=1, arrowwidth=1.3, arrowcolor=DARKRED, text=""))

# ---------- shapes ----------
shapes.append(dict(type="circle", xref="x2", yref="y2", x0=503, x1=326, y0=7, y1=83,
                   line=dict(color=DARKRED, width=2.5, dash="dash")))
shapes.append(dict(type="circle", xref="x3", yref="y3", x0=482, x1=297, y0=18, y1=92,
                   line=dict(color=DARKRED, width=2.5, dash="dash")))
for xr, yr, x0, x1, xc, yb, yt in [("x2", "y2", 1200, 1142, 1180, 67, 72), ("x2", "y2", 177, 90, 134, 19, 23),
                                   ("x3", "y3", 1275, 1189, 1232, 61, 67), ("x3", "y3", 185, 92, 144, 18, 23)]:
    shapes.append(dict(type="line", xref=xr, yref=yr, x0=x0, x1=x1, y0=yb, y1=yb,
                       line=dict(color=PURPLE, width=2)))
    shapes.append(dict(type="line", xref=xr, yref=yr, x0=xc, x1=xc, y0=yb, y1=yt,
                       line=dict(color=PURPLE, width=2)))
for pos in n1s_peak_positions:
    shapes.append(dict(type="line", xref="x4", yref="y4", x0=pos, x1=pos, y0=0, y1=1.0,
                       line=dict(color=PURPLE, width=2.2, dash="dot")))

fig.update_layout(
    width=W, height=H, margin=dict(l=0, r=0, t=0, b=0),
    paper_bgcolor="white", plot_bgcolor="rgba(0,0,0,0)",
    font=dict(family=FONT, color="black"),
    showlegend=False,
    annotations=ann, shapes=shapes,
    **layout_axes,
)

fig.write_html("out.html", config={"displayModeBar": False},
               post_script="document.body.style.margin='0';")
